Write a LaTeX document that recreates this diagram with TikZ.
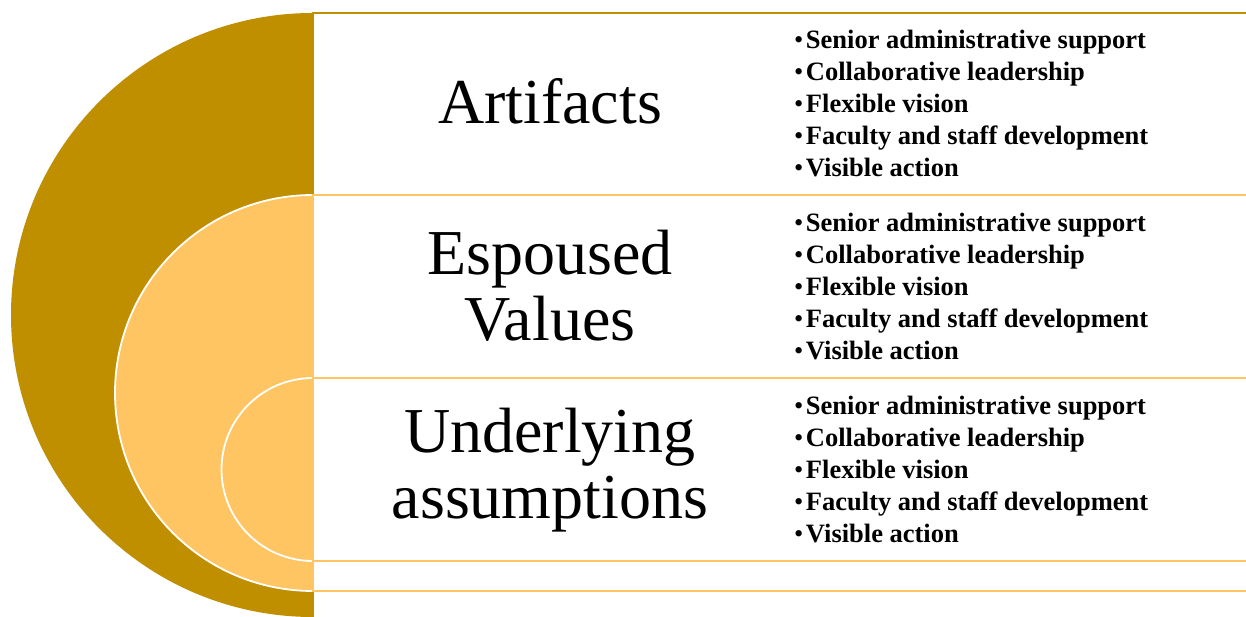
\documentclass[tikz,border=0pt]{standalone}
\usepackage{fontspec}
\setmainfont{Liberation Serif}
\definecolor{gold}{HTML}{BF8F00}
\definecolor{sand}{HTML}{FFC562}
\newcommand{\itembullet}{{\mdseries •}\hspace{2.5pt}}
\begin{document}
\begin{tikzpicture}[x=1pt,y=1pt,
  band/.style={fill=white, line width=1.6pt},
  ring/.style={draw=white, line width=1.8pt},
  title/.style={font=\fontsize{64}{66}\selectfont, align=center, text=black, inner sep=0pt},
  items/.style={font=\fontsize{26.5}{32}\selectfont\bfseries, align=left, anchor=west, inner sep=0pt}]
\useasboundingbox (0,0) rectangle (1246,616);
\clip (0,0) rectangle (1246,616);

% nested half discs
\fill[gold] (313,603) arc[start angle=90,end angle=270,radius=302] -- cycle;
\fill[sand] (313,421) arc[start angle=90,end angle=270,radius=198] -- cycle;
\draw[ring] (313,421) arc[start angle=90,end angle=270,radius=198];
\fill[sand] (313,238) arc[start angle=90,end angle=270,radius=91.5] -- cycle;
\draw[ring] (313,238) arc[start angle=90,end angle=270,radius=91.5];

% text bands
\draw[band, draw=gold] (313,603) rectangle (1262,-6);
\draw[band, draw=sand] (313,421) rectangle (1262,25);
\draw[band, draw=sand] (313,238) rectangle (1262,55);

% titles
\node[title] (artifacts) at (550,515) {Artifacts};
\node[title] (espoused) at (550,330) {Espoused\\Values};
\node[title] (underlying) at (550,146) {Underlying\\assumptions};

% bullet lists
\node[items] (list1) at (794,512) {\itembullet Senior administrative support\\\itembullet Collaborative leadership\\\itembullet Flexible vision\\\itembullet Faculty and staff development\\\itembullet Visible action};
\node[items] (list2) at (794,329) {\itembullet Senior administrative support\\\itembullet Collaborative leadership\\\itembullet Flexible vision\\\itembullet Faculty and staff development\\\itembullet Visible action};
\node[items] (list3) at (794,146) {\itembullet Senior administrative support\\\itembullet Collaborative leadership\\\itembullet Flexible vision\\\itembullet Faculty and staff development\\\itembullet Visible action};
\end{tikzpicture}
\end{document}
